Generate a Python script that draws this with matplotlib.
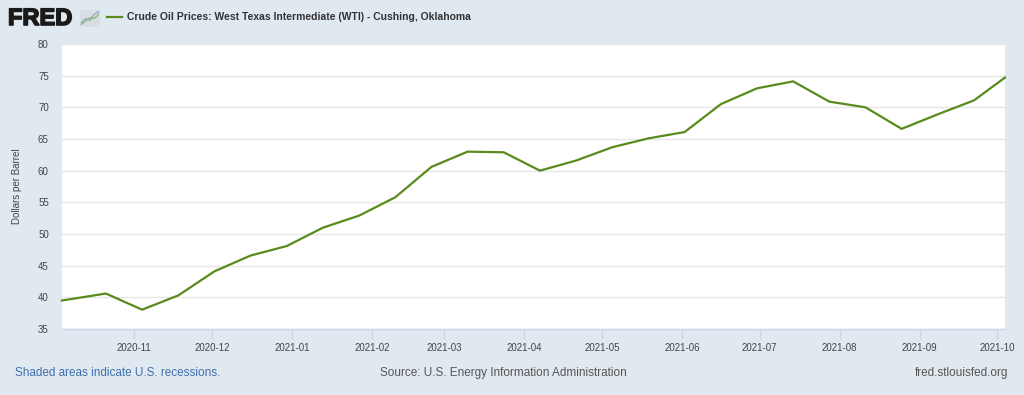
import matplotlib.pyplot as plt
import matplotlib.dates as mdates
import matplotlib.patheffects as pe
import pandas as pd

# biweekly WTI price, dollars per barrel
dates = ['2020-10-04', '2020-10-21', '2020-11-04', '2020-11-18', '2020-12-02',
         '2020-12-16', '2020-12-30', '2021-01-13', '2021-01-27', '2021-02-10',
         '2021-02-24', '2021-03-10', '2021-03-24', '2021-04-07', '2021-04-21',
         '2021-05-05', '2021-05-19', '2021-06-02', '2021-06-16', '2021-06-30',
         '2021-07-14', '2021-07-28', '2021-08-11', '2021-08-25', '2021-09-08',
         '2021-09-22', '2021-10-04']
prices = [39.5, 40.6, 38.05, 40.3, 44.1, 46.6, 48.1, 51.0, 52.9, 55.8,
          60.6, 63.0, 62.9, 60.0, 61.6, 63.7, 65.1, 66.1, 70.5, 73.0,
          74.1, 70.9, 70.0, 66.6, 68.9, 71.1, 74.7]

tick_months = ['2020-11', '2020-12', '2021-01', '2021-02', '2021-03', '2021-04',
               '2021-05', '2021-06', '2021-07', '2021-08', '2021-09', '2021-10']
y_ticks = [35, 40, 45, 50, 55, 60, 65, 70, 75, 80]

series_name = 'Crude Oil Prices: West Texas Intermediate (WTI) - Cushing, Oklahoma'

plt.rcParams['font.family'] = ['Liberation Sans', 'DejaVu Sans']

bg = '#e1e9f0'
line_col = '#5a8a1c'

fig = plt.figure(figsize=(10.24, 3.95), dpi=100, facecolor=bg)
ax = fig.add_axes([62 / 1024, 66 / 395, 943 / 1024, 285 / 395])
ax.set_facecolor('white')

x = pd.to_datetime(dates)
ax.plot(x, prices, color=line_col, lw=1.6, solid_joinstyle='round', clip_on=False, zorder=3)

ax.set_xlim(pd.Timestamp('2020-10-04'), pd.Timestamp('2021-10-04'))
ax.set_ylim(35, 80)
ax.set_yticks(y_ticks)
ax.set_xticks(pd.to_datetime(tick_months))
ax.xaxis.set_major_formatter(mdates.DateFormatter('%Y-%m'))

ax.grid(axis='y', color='#e6e6e6', lw=1)
ax.set_axisbelow(True)
for s in ['top', 'right', 'left']:
    ax.spines[s].set_visible(False)
ax.spines['bottom'].set_color('#ccd6eb')
ax.spines['bottom'].set_linewidth(1)

ax.tick_params(axis='x', length=7, width=1, color='#ccd6eb', labelsize=7,
               labelcolor='#444444', pad=3)
ax.tick_params(axis='y', length=0, labelsize=7, labelcolor='#444444', pad=9.5)
ax.set_ylabel('Dollars per Barrel', fontsize=7, color='#444444')
ax.yaxis.set_label_coords((21.5 - 62) / 943, 0.5)

# header: FRED logo + legend entry
logo = fig.text(8 / 1024, 1 - 18.5 / 395, 'FRED', fontsize=17, fontweight='bold',
                color='#1a1a1a', va='center', ha='left')
logo.set_path_effects([pe.withStroke(linewidth=1.2, foreground='#1a1a1a')])
icon = fig.add_axes([80 / 1024, 1 - 27 / 395, 20 / 1024, 17 / 395])
icon.plot([0, 1, 2, 3, 4], [1, 2, 1.5, 3, 3.6], color='#7fa6cf', lw=0.8)
icon.plot([0, 1, 2, 3, 4], [0.6, 1.4, 2.2, 2.0, 3.0], color='#8bb35a', lw=0.8)
icon.set_xlim(-0.3, 4.3)
icon.set_ylim(0, 4)
icon.set_xticks([])
icon.set_yticks([])
icon.set_facecolor('#d6dde3')
for s in icon.spines.values():
    s.set_visible(False)

fig.add_artist(plt.Line2D([107 / 1024, 122 / 1024], [1 - 17 / 395, 1 - 17 / 395],
                          color=line_col, lw=1.6))
fig.text(127 / 1024, 1 - 17 / 395, series_name, fontsize=7.5, fontweight='bold',
         color='#333333', va='center', ha='left')

# footer
fig.text(15 / 1024, 1 - 373 / 395, 'Shaded areas indicate U.S. recessions.',
         fontsize=8.5, color='#3d6fae', va='center', ha='left')
fig.text(380 / 1024, 1 - 373 / 395, 'Source: U.S. Energy Information Administration',
         fontsize=8.5, color='#555555', va='center', ha='left')
fig.text(1008 / 1024, 1 - 373 / 395, 'fred.stlouisfed.org',
         fontsize=8.5, color='#555555', va='center', ha='right')

fig.savefig('out.png', dpi=100, facecolor=bg)
